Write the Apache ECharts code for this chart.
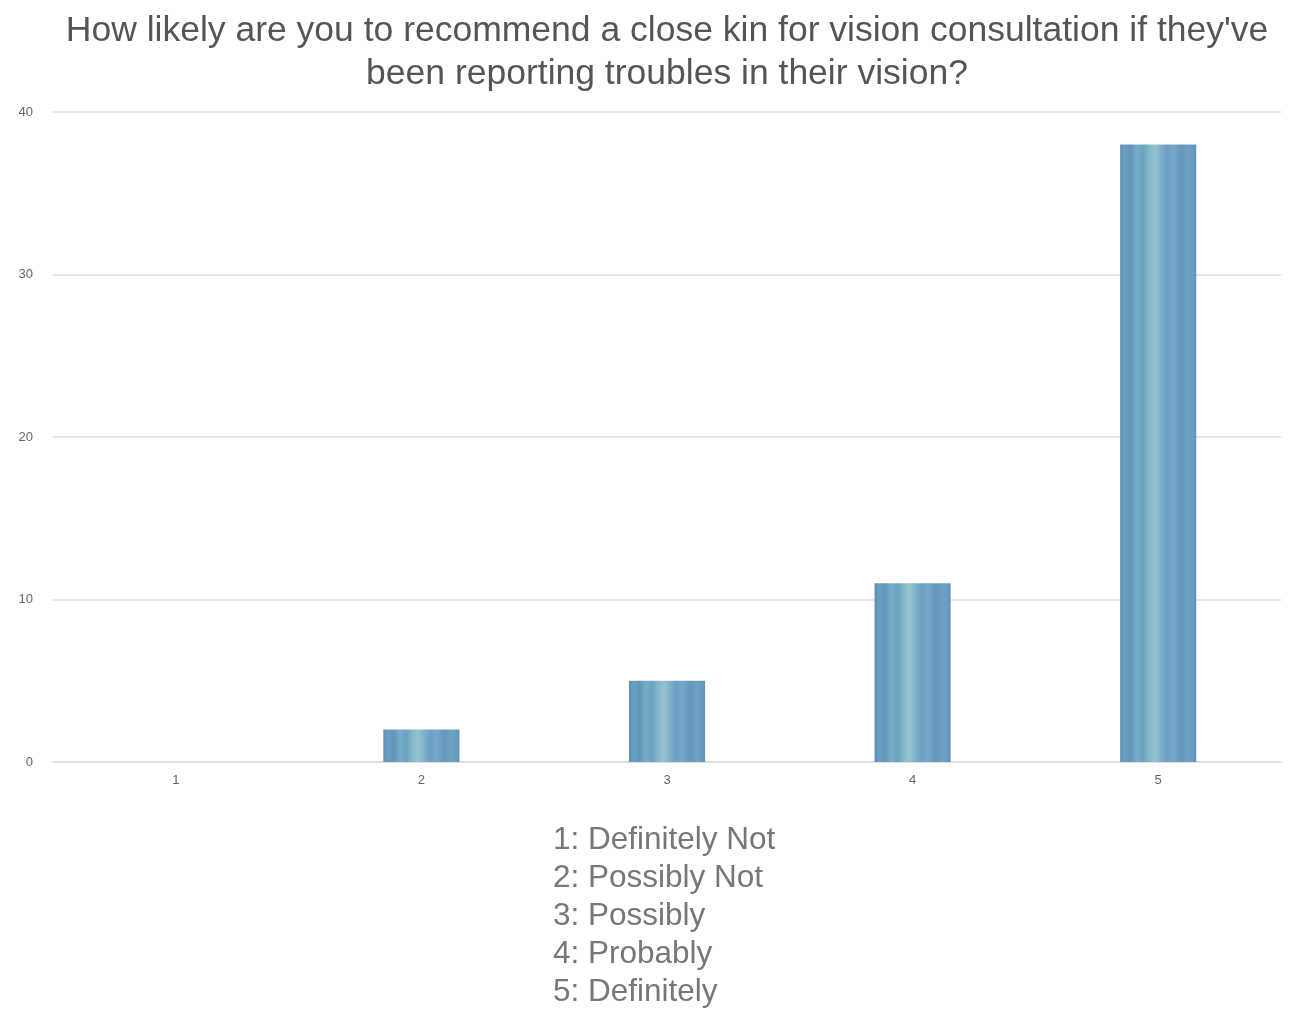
<!DOCTYPE html>
<html>
<head>
<meta charset="utf-8">
<script src="https://cdn.jsdelivr.net/npm/echarts@6/dist/echarts.min.js"></script>
<style>html,body{margin:0;padding:0;background:#fff}#c{width:1290px;height:1010px}</style>
</head>
<body>
<div id="c"></div>
<script>
const titleText = "How likely are you to recommend a close kin for vision consultation if they've\nbeen reporting troubles in their vision?";
const categories = ["1", "2", "3", "4", "5"];
const counts = [0, 2, 5, 11, 38];
const yTicks = [0, 10, 20, 30, 40];
const legendLines = ["1: Definitely Not", "2: Possibly Not", "3: Possibly", "4: Probably", "5: Definitely"];

const chart = echarts.init(document.getElementById('c'), null, {renderer: 'canvas'});
const barFill = new echarts.graphic.LinearGradient(0, 0, 1, 0, [
  {offset: 0.00, color: '#5f90b6'},
  {offset: 0.06, color: '#6c9ec2'},
  {offset: 0.14, color: '#6096ba'},
  {offset: 0.22, color: '#78aec6'},
  {offset: 0.30, color: '#6aa2c1'},
  {offset: 0.38, color: '#82b8c9'},
  {offset: 0.46, color: '#96c2d0'},
  {offset: 0.54, color: '#7db0c9'},
  {offset: 0.62, color: '#6b9fc3'},
  {offset: 0.70, color: '#77a8c9'},
  {offset: 0.80, color: '#6597be'},
  {offset: 0.90, color: '#6fa2c4'},
  {offset: 1.00, color: '#6094ba'}
]);

chart.setOption({
  animation: false,
  backgroundColor: '#ffffff',
  title: {
    text: titleText,
    left: 662,
    top: 5,
    textAlign: 'center',
    textStyle: {fontFamily: 'Liberation Sans', fontSize: 35.5, fontWeight: 'normal', color: '#555555', lineHeight: 43}
  },
  grid: {left: 53, right: 9, top: 112, bottom: 248},
  xAxis: {
    type: 'category',
    data: categories,
    axisLine: {lineStyle: {color: '#dddddd', width: 1.5}},
    axisTick: {show: false},
    axisLabel: {fontFamily: 'Liberation Sans', fontSize: 13, color: '#666666', margin: 12}
  },
  yAxis: {
    type: 'value',
    min: yTicks[0],
    max: yTicks[yTicks.length - 1],
    interval: 10,
    axisLine: {show: false},
    axisTick: {show: false},
    splitLine: {lineStyle: {color: '#dddddd', width: 1.5}},
    axisLabel: {fontFamily: 'Liberation Sans', fontSize: 13, color: '#666666', margin: 20}
  },
  series: [{
    type: 'bar',
    data: counts,
    barWidth: '31%',
    itemStyle: {color: barFill}
  }],
  graphic: [{
    type: 'text',
    left: 553,
    top: 821,
    style: {
      text: legendLines.join('\n'),
      fontFamily: 'Liberation Sans',
      fontSize: 31.5,
      lineHeight: 38,
      fill: '#777777'
    }
  }]
});
</script>
</body>
</html>
